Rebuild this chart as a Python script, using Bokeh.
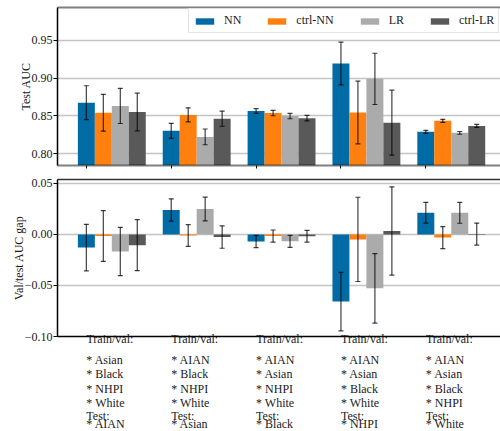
from bokeh.plotting import figure
from bokeh.models import (ColumnDataSource, Whisker, TeeHead, FixedTicker, Range1d,
                          LinearAxis, Legend, LegendItem, CustomJSTickFormatter)
from bokeh.core.properties import value
from bokeh.layouts import column
from bokeh.embed import file_html
from bokeh.resources import INLINE

# ---- data -------------------------------------------------------------
test_groups = ["AIAN", "Asian", "Black", "NHPI", "White"]
models = ["NN", "ctrl-NN", "LR", "ctrl-LR"]
colors = ["#006BA4", "#FF800E", "#ABABAB", "#595959"]

# test AUC (mean) and error-bar half width, one value per held-out test group
auc_nn = [0.8675, 0.8302, 0.8564, 0.9193, 0.8289]
auc_nn_err = [0.0224, 0.0100, 0.0031, 0.0283, 0.0020]
auc_ctrl_nn = [0.8541, 0.8513, 0.8537, 0.8545, 0.8434]
auc_ctrl_nn_err = [0.0244, 0.0093, 0.0035, 0.0415, 0.0020]
auc_lr = [0.8632, 0.8222, 0.8497, 0.8990, 0.8275]
auc_lr_err = [0.0233, 0.0104, 0.0035, 0.0339, 0.0018]
auc_ctrl_lr = [0.8551, 0.8463, 0.8470, 0.8410, 0.8367]
auc_ctrl_lr_err = [0.0249, 0.0100, 0.0037, 0.0430, 0.0020]

# validation/test AUC gap and error-bar half width
gap_nn = [-0.0128, 0.0240, -0.0068, -0.0658, 0.0213]
gap_nn_err = [0.0228, 0.0110, 0.0060, 0.0287, 0.0102]
gap_ctrl_nn = [-0.0015, -0.0010, -0.0015, -0.0048, -0.0030]
gap_ctrl_nn_err = [0.0248, 0.0106, 0.0059, 0.0413, 0.0108]
gap_lr = [-0.0167, 0.0250, -0.0067, -0.0528, 0.0212]
gap_lr_err = [0.0236, 0.0116, 0.0059, 0.0340, 0.0102]
gap_ctrl_lr = [-0.0105, -0.0025, -0.0017, 0.0034, 0.0004]
gap_ctrl_lr_err = [0.0250, 0.0110, 0.0057, 0.0432, 0.0108]

auc_ticks = [0.80, 0.85, 0.90, 0.95]
gap_ticks = [-0.10, -0.05, 0.00, 0.05]

auc_series = [(auc_nn, auc_nn_err), (auc_ctrl_nn, auc_ctrl_nn_err),
              (auc_lr, auc_lr_err), (auc_ctrl_lr, auc_ctrl_lr_err)]
gap_series = [(gap_nn, gap_nn_err), (gap_ctrl_nn, gap_ctrl_nn_err),
              (gap_lr, gap_lr_err), (gap_ctrl_lr, gap_ctrl_lr_err)]

# ---- styling ----------------------------------------------------------
FONT = "Liberation Serif"
TEXT_COLOR = "#1a1a1a"
BAR_W = 0.2
X_RANGE = (-0.34, 4.88)
fmt = CustomJSTickFormatter(code="return tick.toFixed(2).replace('-', '\\u2212');")


def make_panel(height, y_range, yticks, ylabel, border_top, border_bottom,
               top_spine_color, top_spine_alpha, top_spine_width,
               bottom_spine_alpha, bottom_spine_width):
    p = figure(width=500, height=height, output_backend="svg", toolbar_location=None,
               x_range=Range1d(*X_RANGE), y_range=Range1d(*y_range),
               min_border_left=57, min_border_right=0,
               min_border_top=border_top, min_border_bottom=border_bottom)
    p.outline_line_color = None
    p.xgrid.grid_line_color = None
    p.ygrid.ticker = FixedTicker(ticks=yticks)
    p.ygrid.grid_line_color = "#c4c4c4"
    p.ygrid.grid_line_width = 1.5

    ya = p.left[0]
    ya.ticker = FixedTicker(ticks=yticks)
    ya.formatter = fmt
    ya.axis_label = ylabel
    ya.axis_label_text_font = FONT
    ya.axis_label_text_font_style = "normal"
    ya.axis_label_text_font_size = "12px"
    ya.axis_label_text_color = TEXT_COLOR
    ya.axis_label_standoff = -4
    ya.major_label_text_font = FONT
    ya.major_label_text_font_size = "12px"
    ya.major_label_text_color = TEXT_COLOR
    ya.major_label_standoff = 1
    ya.major_tick_out = 4
    ya.major_tick_in = 0
    ya.minor_tick_out = 0
    ya.minor_tick_in = 0
    ya.axis_line_color = "black"
    ya.axis_line_width = 1.5

    xa = p.below[0]
    xa.ticker = FixedTicker(ticks=list(range(len(test_groups))))
    xa.major_label_text_font_size = "0px"
    xa.major_label_standoff = 0
    xa.major_tick_out = 3
    xa.major_tick_in = 0
    xa.minor_tick_out = 0
    xa.axis_line_color = "black"
    xa.axis_line_alpha = bottom_spine_alpha
    xa.axis_line_width = bottom_spine_width

    top = LinearAxis(ticker=FixedTicker(ticks=[]), major_tick_out=0, major_tick_in=0,
                     minor_tick_out=0, minor_tick_in=0, major_label_standoff=0,
                     major_label_text_font_size="0px",
                     axis_line_color=top_spine_color, axis_line_alpha=top_spine_alpha,
                     axis_line_width=top_spine_width)
    p.add_layout(top, "above")
    return p


def draw_bars(p, series):
    renderers = []
    for k, ((vals, errs), color) in enumerate(zip(series, colors)):
        xs = [i + k * BAR_W for i in range(len(vals))]
        src = ColumnDataSource(dict(
            x=xs, top=vals,
            upper=[v + e for v, e in zip(vals, errs)],
            lower=[v - e for v, e in zip(vals, errs)]))
        r = p.vbar(x="x", top="top", bottom=0, width=BAR_W, source=src,
                   fill_color=color, line_color=None)
        renderers.append(r)
        head = dict(size=5, line_color="black", line_alpha=0.75, line_width=1.2)
        p.add_layout(Whisker(source=src, base="x", upper="upper", lower="lower",
                             line_color="black", line_alpha=0.75, line_width=1.2,
                             upper_head=TeeHead(**head), lower_head=TeeHead(**head),
                             level="overlay"))
    return renderers


# ---- top panel: test AUC ---------------------------------------------
p1 = make_panel(172, (0.7843, 0.9935), auc_ticks, "Test AUC", 7, 7,
                "black", 0.5, 2, 0.5, 2)
bars = draw_bars(p1, auc_series)

legend = Legend(items=[LegendItem(label=m, renderers=[r]) for m, r in zip(models, bars)],
                orientation="horizontal", location=(131, 132),
                glyph_width=23, glyph_height=8, label_standoff=8, spacing=24,
                label_width=0, label_height=12, padding=4, margin=0,
                label_text_font=FONT, label_text_font_size="12px",
                label_text_color=TEXT_COLOR,
                border_line_color="#cccccc", border_line_width=1,
                background_fill_color="white", background_fill_alpha=0.85)
p1.add_layout(legend)

# ---- bottom panel: validation/test gap -------------------------------
p2 = make_panel(178, (-0.10, 0.0539), gap_ticks, "Val/test AUC gap", 7, 14,
                "#333333", 1.0, 1.5, 1.0, 1.5)
draw_bars(p2, gap_series)

# first line of each group description is the bottom axis' tick label;
# axis labels are centred on their tick, so the ticks sit half a label
# width to the right of each group's first bar
LABEL_HALF_W = 0.277
xa2 = p2.below[0]
xa2.ticker = FixedTicker(ticks=[i + LABEL_HALF_W for i in range(len(test_groups))])
xa2.formatter = CustomJSTickFormatter(code="return 'Train/val:';")
xa2.major_label_text_font = FONT
xa2.major_label_text_font_size = "12px"
xa2.major_label_text_color = TEXT_COLOR
xa2.major_label_standoff = -5
xa2.major_tick_out = 0

# ---- rest of the group descriptions ----------------------------------
# a strip sharing the x scale; its y axis counts pixels up from the strip's bottom
STRIP_H = 81
p3 = figure(width=500, height=STRIP_H, output_backend="svg", toolbar_location=None,
            x_range=p2.x_range, y_range=Range1d(0, STRIP_H),
            x_axis_location=None, y_axis_location=None,
            min_border_left=57, min_border_right=0, min_border_top=0, min_border_bottom=0)
p3.outline_line_color = None
p3.grid.visible = False

# baseline of each line, in pixels below the top of the strip
line_px_below = [9.7, 23.7, 38, 52, 65.7, 73.7]
xs, ys, texts = [], [], []
for i, g in enumerate(test_groups):
    train = [t for t in test_groups if t != g]
    lines = ["* " + t for t in train] + ["Test:", "* " + g]
    for text, off in zip(lines, line_px_below):
        xs.append(i)
        ys.append(STRIP_H - off)
        texts.append(text)
p3.text(x="x", y="y", text="text", source=ColumnDataSource(dict(x=xs, y=ys, text=texts)),
        text_font=value(FONT), text_font_size="12px", text_color=TEXT_COLOR,
        text_align="left", text_baseline="alphabetic")

layout = column(p1, p2, p3, spacing=0)
open("out.html", "w").write(file_html(layout, INLINE))
